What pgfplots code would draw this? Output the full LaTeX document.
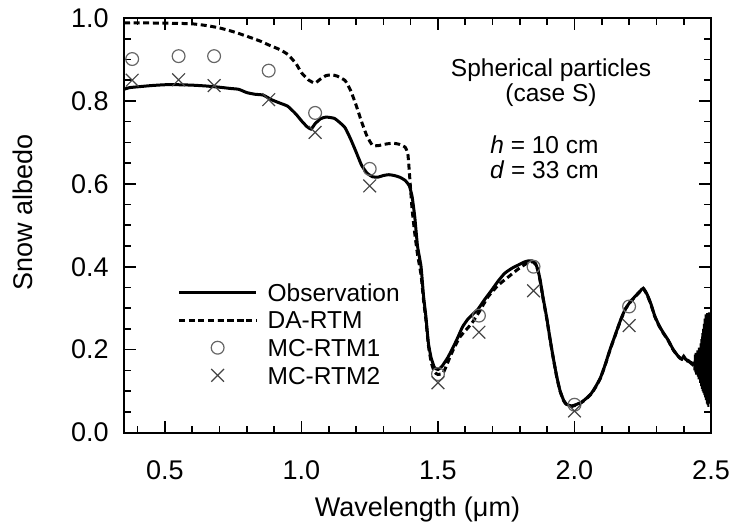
\documentclass[border=0pt]{standalone}
\usepackage{fontspec}
\setmainfont{Liberation Sans}
\usepackage{pgfplots}
\pgfplotsset{compat=1.18}
\definecolor{circgray}{HTML}{666666}
\definecolor{crossgray}{HTML}{444444}
\begin{document}
\begin{tikzpicture}
\begin{axis}[
  at={(0,0)}, anchor=south west, scale only axis,
  width=293.5pt, height=207.25pt,
  xmin=0.35, xmax=2.5, ymin=0, ymax=1,
  xtick={0.5,1.0,1.5,2.0,2.5},
  ytick={0,0.2,0.4,0.6,0.8,1.0},
  minor xtick={0.4,0.6,0.7,0.8,0.9,1.1,1.2,1.3,1.4,1.6,1.7,1.8,1.9,2.1,2.2,2.3,2.4},
  minor y tick num=3,
  tick align=inside,
  major tick length=6pt, minor tick length=3.5pt,
  axis line style={line width=1pt},
  every tick/.style={line width=0.8pt, black},
  /pgf/number format/assume math mode=true,
  tick label style={font=\fontsize{13.5}{16}\selectfont},
  x tick label style={/pgf/number format/fixed, /pgf/number format/fixed zerofill, /pgf/number format/precision=1, yshift=-10.5pt},
  y tick label style={/pgf/number format/fixed, /pgf/number format/fixed zerofill, /pgf/number format/precision=1, xshift=-4.2pt},
  xlabel={Wavelength (μm)},
  ylabel={Snow albedo},
  every axis x label/.style={at={(axis description cs:0.5,-0.185)}, anchor=center, font=\fontsize{13.5}{16}\selectfont},
  every axis y label/.style={at={(axis description cs:-0.172,0.53)}, rotate=90, anchor=center, font=\fontsize{13.5}{16}\selectfont},
  legend image code/.code={\draw[mark repeat=2,mark phase=2] plot coordinates {(0pt,0pt) (19.25pt,0pt) (38.5pt,0pt)};},
  legend cell align=left,
  legend style={draw=none, fill=none, at={(axis cs:0.545,0.372)}, anchor=north west,
    font=\fontsize{12.25}{14}\selectfont, inner sep=0pt, row sep=0pt, column sep=2.5pt,
    nodes={inner sep=2.5pt, text height=8.8pt, text depth=0pt}},
]
% Observation
\addplot[black, line width=1.5pt, smooth, tension=0.3] coordinates {
(0.35,0.828)(0.37,0.832)(0.40,0.834)(0.45,0.837)(0.50,0.839)(0.55,0.839)(0.60,0.838)(0.65,0.836)
(0.70,0.833)(0.74,0.830)(0.77,0.828)(0.80,0.820)(0.83,0.816)(0.86,0.814)(0.89,0.803)
(0.92,0.795)(0.95,0.787)(0.98,0.768)(1.00,0.752)(1.02,0.738)(1.035,0.732)(1.05,0.745)
(1.07,0.757)(1.09,0.761)(1.12,0.758)(1.14,0.748)(1.16,0.735)(1.18,0.708)(1.20,0.677)
(1.22,0.645)(1.24,0.626)(1.26,0.617)(1.28,0.616)(1.30,0.620)(1.32,0.622)(1.34,0.620)
(1.36,0.616)(1.38,0.608)(1.395,0.595)(1.405,0.570)(1.415,0.520)(1.425,0.450)(1.438,0.400)
(1.447,0.330)(1.456,0.278)(1.465,0.215)(1.475,0.180)(1.487,0.157)(1.500,0.152)(1.515,0.160)
(1.536,0.181)(1.555,0.205)(1.573,0.230)(1.590,0.255)(1.610,0.274)(1.630,0.287)(1.646,0.297)
(1.670,0.320)(1.696,0.343)(1.720,0.365)(1.744,0.384)(1.770,0.396)(1.794,0.404)(1.815,0.411)
(1.830,0.414)(1.845,0.414)(1.857,0.408)(1.867,0.390)(1.875,0.365)(1.885,0.325)(1.898,0.278)
(1.910,0.228)(1.922,0.181)(1.935,0.135)(1.947,0.101)(1.960,0.078)(1.971,0.068)(1.990,0.064)
(2.008,0.068)(2.025,0.073)(2.039,0.080)(2.060,0.093)(2.076,0.109)(2.095,0.132)(2.113,0.165)
(2.130,0.200)(2.149,0.235)(2.168,0.270)(2.186,0.298)(2.205,0.316)(2.223,0.329)(2.240,0.341)
(2.252,0.348)(2.266,0.333)(2.280,0.310)(2.294,0.281)(2.310,0.258)(2.325,0.241)(2.343,0.223)
(2.360,0.202)(2.375,0.188)(2.385,0.180)(2.393,0.177)(2.400,0.184)(2.408,0.176)(2.416,0.174)
(2.424,0.169)(2.432,0.164)(2.438,0.170)
};
\addlegendentry{Observation}
% DA-RTM
\addplot[black, line width=1.5pt, dash pattern=on 3pt off 1.8pt, smooth, tension=0.3] coordinates {
(0.35,0.988)(0.45,0.988)(0.55,0.987)(0.60,0.986)(0.65,0.982)(0.70,0.976)(0.75,0.967)
(0.80,0.956)(0.85,0.944)(0.88,0.935)(0.92,0.924)(0.95,0.912)(0.98,0.890)(1.00,0.868)
(1.025,0.851)(1.049,0.843)(1.07,0.853)(1.09,0.861)(1.11,0.863)(1.13,0.860)(1.16,0.849)
(1.18,0.825)(1.20,0.790)(1.22,0.750)(1.24,0.715)(1.26,0.693)(1.28,0.692)(1.31,0.696)
(1.335,0.698)(1.36,0.695)(1.38,0.688)(1.39,0.670)(1.398,0.602)(1.405,0.540)(1.415,0.480)
(1.425,0.430)(1.438,0.380)(1.447,0.320)(1.456,0.270)(1.465,0.210)(1.475,0.170)(1.487,0.146)
(1.500,0.140)(1.520,0.145)(1.549,0.190)(1.580,0.230)(1.622,0.262)(1.650,0.290)(1.683,0.327)
(1.720,0.355)(1.757,0.375)(1.795,0.395)(1.830,0.410)(1.848,0.412)(1.860,0.402)(1.867,0.388)
(1.875,0.363)(1.885,0.323)(1.898,0.276)(1.910,0.226)(1.922,0.180)(1.935,0.134)(1.947,0.100)
(1.960,0.077)(1.971,0.067)(1.990,0.063)(2.008,0.067)(2.025,0.072)(2.039,0.079)(2.060,0.092)
(2.076,0.108)(2.095,0.131)(2.113,0.164)(2.130,0.199)(2.149,0.234)(2.168,0.269)(2.186,0.297)
(2.205,0.315)(2.223,0.328)(2.240,0.340)(2.252,0.347)(2.266,0.332)(2.280,0.309)(2.294,0.280)
(2.310,0.257)(2.325,0.240)(2.343,0.222)(2.360,0.201)(2.375,0.187)(2.393,0.177)(2.416,0.172)
(2.440,0.165)(2.470,0.160)(2.500,0.152)
};
\addlegendentry{DA-RTM}
% MC-RTM1
\addplot[only marks, mark=o, mark size=3.2pt, color=circgray, mark options={line width=0.6pt}] coordinates {
(0.38,0.901)(0.55,0.908)(0.68,0.908)(0.88,0.873)(1.05,0.771)(1.25,0.636)
(1.50,0.141)(1.65,0.282)(1.85,0.400)(2.00,0.067)(2.20,0.304)
};
\addlegendentry{MC-RTM1}
% MC-RTM2
\addplot[only marks, mark=x, mark size=4.5pt, color=crossgray, mark options={line width=0.6pt}] coordinates {
(0.38,0.850)(0.55,0.851)(0.68,0.837)(0.88,0.803)(1.05,0.724)(1.25,0.595)
(1.50,0.120)(1.65,0.242)(1.85,0.342)(2.00,0.052)(2.20,0.258)
};
\addlegendentry{MC-RTM2}
% noisy tail of observation
\addplot[black, line width=1pt, forget plot] coordinates {
(2.438,0.170)(2.4395,0.150)(2.441,0.188)(2.4425,0.145)(2.444,0.192)(2.4455,0.140)(2.447,0.186)
(2.4485,0.142)(2.450,0.198)(2.4515,0.135)(2.453,0.190)(2.4545,0.128)(2.456,0.205)(2.4575,0.130)
(2.459,0.196)(2.4605,0.120)(2.462,0.215)(2.4635,0.112)(2.465,0.225)(2.4665,0.105)(2.468,0.240)
(2.4695,0.100)(2.471,0.250)(2.4725,0.095)(2.474,0.262)(2.4755,0.090)(2.477,0.275)(2.4785,0.085)
(2.480,0.285)(2.4815,0.078)(2.483,0.280)(2.4845,0.070)(2.486,0.288)(2.4875,0.066)(2.489,0.282)
(2.4905,0.062)(2.492,0.290)(2.4935,0.070)(2.495,0.275)(2.4965,0.080)(2.498,0.250)(2.4995,0.110)
};
\node[font=\fontsize{12.25}{14}\selectfont] at (axis cs:1.914,0.875) {Spherical particles};
\node[font=\fontsize{12.25}{14}\selectfont] at (axis cs:1.914,0.814) {(case S)};
\node[font=\fontsize{12.25}{14}\selectfont] at (axis cs:1.89,0.694) {\textit{h} = 10 cm};
\node[font=\fontsize{12.25}{14}\selectfont] at (axis cs:1.89,0.633) {\textit{d} = 33 cm};
\end{axis}
\pgfresetboundingbox
\useasboundingbox (-62pt,-47.25pt) rectangle (303.5pt,216.25pt);
\end{tikzpicture}
\end{document}
